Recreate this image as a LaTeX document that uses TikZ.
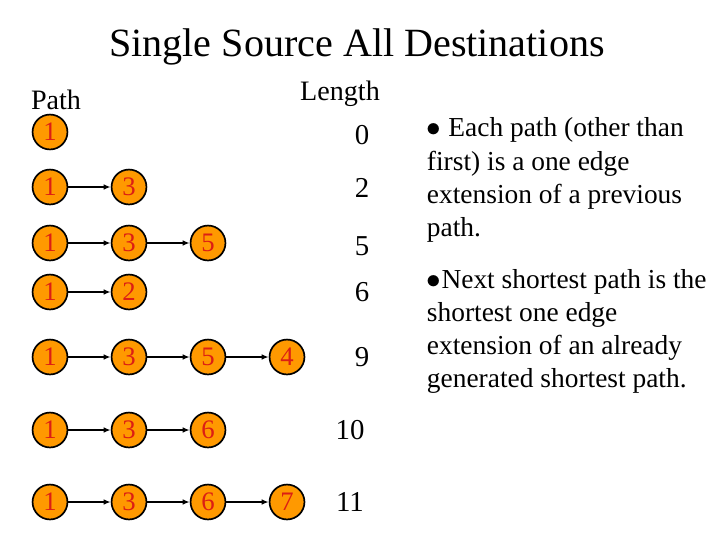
\documentclass[tikz,border=0pt]{standalone}
\usepackage{fontspec}
\setmainfont{Liberation Serif}
\usetikzlibrary{arrows.meta}
\definecolor{vorange}{RGB}{255,153,0}
\definecolor{vred}{RGB}{220,30,20}

\begin{document}
\begin{tikzpicture}[x=0.025cm,y=-0.025cm,->,>={Latex[length=5pt,width=4pt]}]
		\tikzstyle{vertex}=[circle,draw=black,line width=1.2pt,fill=vorange,text=vred,minimum size=35pt*0.709,inner sep=0pt,font=\fontsize{19}{19}\selectfont]
		\tikzstyle{len}=[font=\fontsize{20.5}{20.5}\selectfont]
		\tikzstyle{annot}=[font=\fontsize{20}{20}\selectfont]
		\useasboundingbox (0,0) rectangle (720,540);
		
		% Title and column heads
		\node[font=\fontsize{28.5}{28.5}\selectfont] (title) at (357,47) {Single Source All Destinations};
		\node[annot] (path) at (56,100) {Path};
		\node[annot] (length) at (340,94) {Length};
		
		% Draw the paths, one row at a time
		\foreach \r/\y/\verts in {1/132/{1}, 2/187/{1,3}, 3/243/{1,3,5}, 4/292/{1,2},
				5/357/{1,3,5,4}, 6/430/{1,3,6}, 7/502/{1,3,6,7}}{
			\foreach \v [count=\c] in \verts
			\node[vertex] (V\r-\c) at (50+79*\c-79,\y) {\v};
		}
		
		% Connect consecutive vertices of each path
		\foreach \r/\n in {2/2,3/3,4/2,5/4,6/3,7/4}
		\foreach \c in {2,...,\n}{
			\pgfmathtruncatemacro\p{\c-1}
			\draw[line width=1.2pt] (V\r-\p) -- (V\r-\c);
		}
		
		% Path lengths
		\node[len] (L1) at (362,135) {0};
		\node[len] (L2) at (362,188) {2};
		\node[len] (L3) at (362,246) {5};
		\node[len] (L4) at (362,292) {6};
		\node[len] (L5) at (362,357) {9};
		\node[len] (L6) at (350,430) {10};
		\node[len] (L7) at (350,502) {11};
		
		% Remarks
		\node[anchor=north west,align=left,font=\fontsize{19.5}{23.5}\selectfont] (rem1) at (422,113)
		{$\bullet$ Each path (other than\\first) is a one edge\\extension of a previous\\path.};
		\node[anchor=north west,align=left,font=\fontsize{19.5}{23.5}\selectfont] (rem2) at (422,264)
		{$\bullet$Next shortest path is the\\shortest one edge\\extension of an already\\generated shortest path.};
	\end{tikzpicture}
\end{document}
